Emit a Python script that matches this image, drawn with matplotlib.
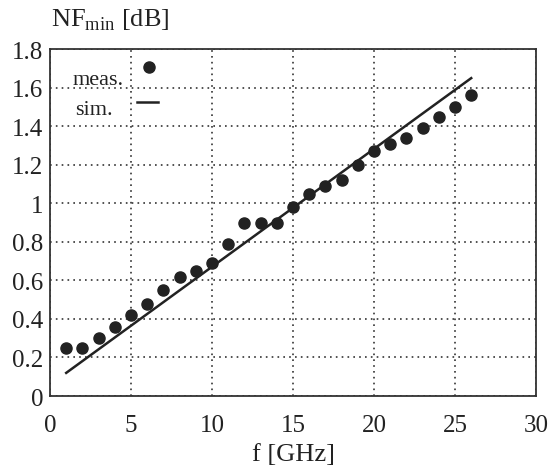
import numpy as np
import matplotlib.pyplot as plt

plt.rcParams['font.family'] = ['Liberation Serif', 'DejaVu Serif']
plt.rcParams['mathtext.fontset'] = 'custom'
plt.rcParams['mathtext.rm'] = 'Liberation Serif'

# measured NFmin [dB] at 1..26 GHz
f_meas = np.arange(1, 27)
nf_meas = [0.25, 0.25, 0.30, 0.36, 0.42, 0.48, 0.55, 0.62, 0.65, 0.69,
           0.79, 0.90, 0.90, 0.90, 0.98, 1.05, 1.09, 1.12, 1.20, 1.27,
           1.31, 1.34, 1.39, 1.45, 1.50, 1.56]
# simulated (straight line)
f_sim = [1, 26]
nf_sim = [0.12, 1.65]

ink = '#222222'
fig = plt.figure(figsize=(5.58, 4.77), dpi=100)
ax = fig.add_axes([0.0896, 0.1677, 0.871, 0.727])

ax.plot(f_meas, nf_meas, 'o', color=ink, markersize=8)
ax.plot(f_sim, nf_sim, '-', color=ink, lw=1.8)

ax.set_xlim(0, 30)
ax.set_ylim(0, 1.8)
ax.set_xticks(np.arange(0, 31, 5))
ax.set_yticks(np.arange(0, 1.81, 0.2))
ax.set_yticklabels(['0', '0.2', '0.4', '0.6', '0.8', '1', '1.2', '1.4', '1.6', '1.8'])
ax.tick_params(length=0, labelsize=18, colors=ink)
ax.tick_params(axis='y', pad=5)
ax.tick_params(axis='x', pad=13)
ax.grid(True, linestyle=(0, (1, 2.5)), color='#333333', lw=1.2)
for s in ax.spines.values():
    s.set_color('#333333')
    s.set_linewidth(1.3)

ax.set_xlabel('f [GHz]', fontsize=19, color=ink, labelpad=5)
fig.text(0.092, 0.945, r'NF$_{\rm min}$ [dB]', fontsize=19, color=ink)

# hand-placed legend, as in the original figure
ax.text(0.047, 0.914, 'meas.', transform=ax.transAxes, fontsize=16,
        color=ink, va='center', ha='left')
ax.text(0.051, 0.827, 'sim.', transform=ax.transAxes, fontsize=16,
        color=ink, va='center', ha='left')
ax.plot([0.204], [0.948], 'o', color=ink, markersize=8, transform=ax.transAxes)
ax.plot([0.179, 0.222], [0.847, 0.847], '-', color=ink, lw=1.8,
        transform=ax.transAxes)

fig.savefig('out.png', dpi=100)
